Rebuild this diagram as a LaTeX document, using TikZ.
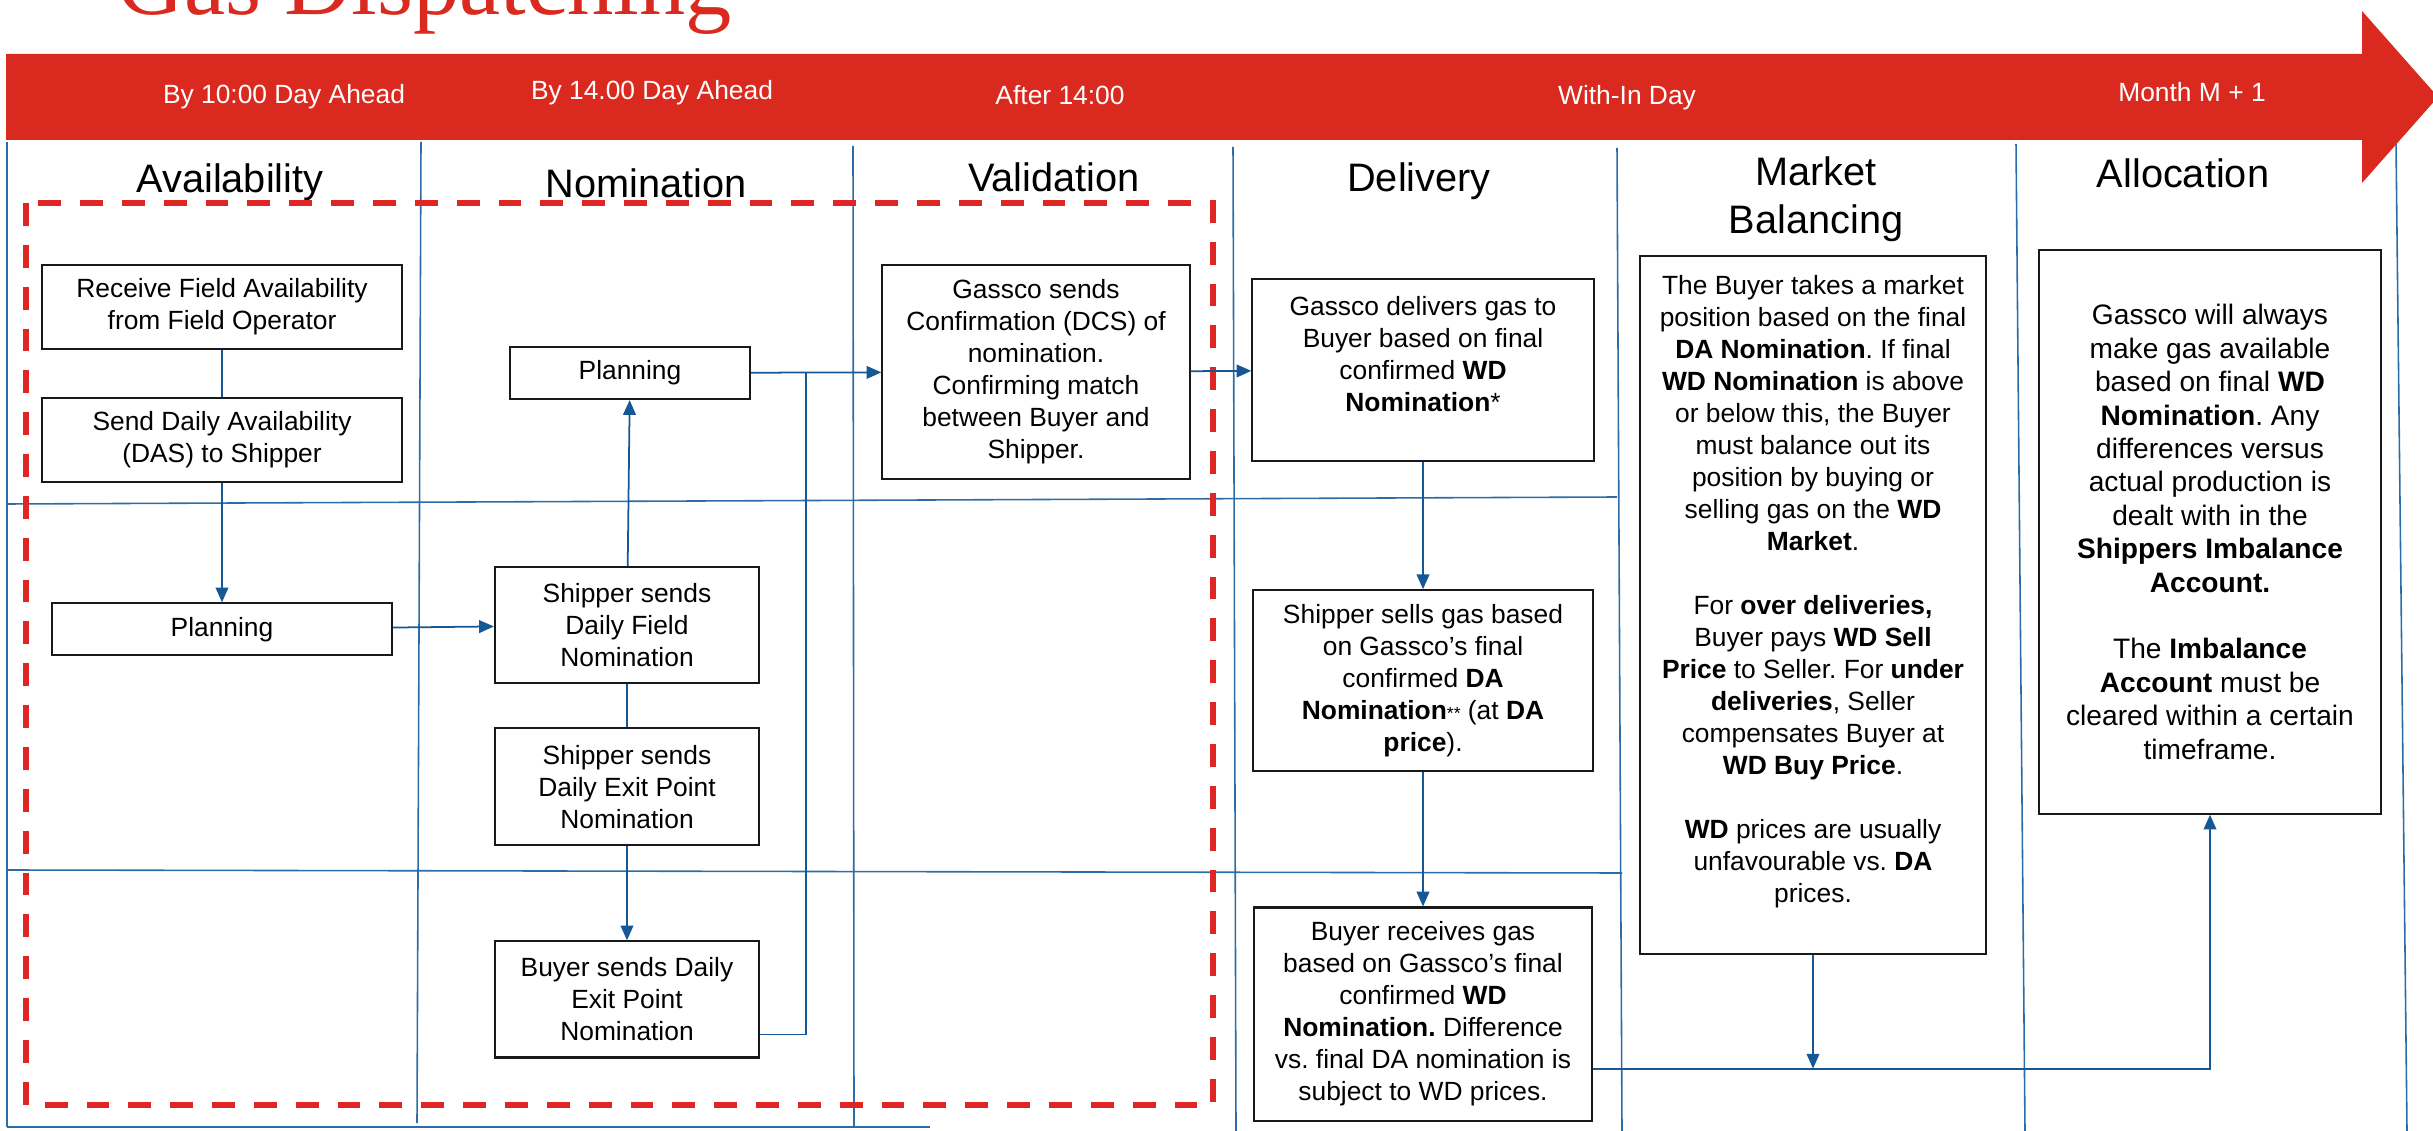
\documentclass[tikz,border=0pt]{standalone}
\usepackage{fontspec}
\setmainfont{Liberation Sans}
\newfontfamily\titlefont{Liberation Serif}
\usetikzlibrary{arrows.meta,positioning}
\frenchspacing

\definecolor{bandred}{RGB}{218,41,30}
\definecolor{dashred}{RGB}{224,38,36}
\definecolor{flowblue}{RGB}{22,88,150}
\definecolor{gridblue}{RGB}{45,108,168}
\newcommand{\bxfont}{\fontsize{7.5}{9.1}\selectfont}
\newcommand{\hdfont}{\fontsize{11.3}{13.7}\selectfont}

\begin{document}
\begin{tikzpicture}[x=0.01cm,y=-0.01cm,
    box/.style={draw=black!90,line width=0.6pt,fill=white,align=center,inner sep=2pt,font=\bxfont},
    hdr/.style={anchor=base,font=\hdfont,inner sep=0pt},
    band/.style={anchor=base,text=white,font=\bxfont,inner sep=0pt},
    flow/.style={draw=flowblue,line width=0.5pt},
    arr/.style={-{Triangle[length=4.2pt,width=3.6pt]}},
    lane/.style={draw=gridblue,line width=0.45pt}]
    \useasboundingbox (0,0) rectangle (2433,1131);
    \clip (0,0) rectangle (2433,1131);

    % time arrow
    \fill[bandred] (6,54) -- (2362,54) -- (2362,11) -- (2438,97) -- (2362,183) -- (2362,140) -- (6,140) -- cycle;
    \node[anchor=base west,text=bandred,font=\titlefont\fontsize{26.3}{30}\selectfont,inner sep=0pt] (title) at (117,15) {Gas Dispatching};
    \node[band] (t1) at (284,104) {By 10:00 Day Ahead};
    \node[band] (t2) at (652,100) {By 14.00 Day Ahead};
    \node[band] (t3) at (1060,105) {After 14:00};
    \node[band] (t4) at (1627,105) {With-In Day};
    \node[band] (t5) at (2192,102) {Month M + 1};

    % lanes
    \foreach \xa/\xb/\ya/\yb in {7/7/142/1127, 421/417/142/1123, 853/854/146/1127, 1233/1236/147/1131,
        1617/1622/148/1131, 2016/2025/144/1131, 2396/2407/144/1131}
        \draw[lane] (\xa,\ya) -- (\xb,\yb);
    \draw[lane] (7,504) -- (1617,497);
    \draw[lane] (7,870) -- (1622,873);
    \draw[lane] (7,1127) -- (930,1127);

    % column headers
    \node[hdr] (havail) at (230,193) {Availability};
    \node[hdr] (hnom) at (646,198) {Nomination};
    \node[hdr] (hval) at (1054,192) {Validation};
    \node[hdr] (hdel) at (1419,192) {Delivery};
    \node[font=\hdfont,align=center,inner sep=0pt] (hmkt) at (1816,199) {Market\\Balancing};
    \node[hdr] (halloc) at (2183,188) {Allocation};

    % day-ahead frame
    \draw[dashred,line width=1.7pt,dash pattern=on 6.5pt off 5.4pt] (26,203) rectangle (1213,1105);

    % availability
    \node[box,minimum width=3.59cm,minimum height=0.84cm] (recv) at (222,307) {Receive Field Availability\\from Field Operator};
    \node[box,minimum width=3.59cm,minimum height=0.84cm,below=0.47cm of recv] (das) {Send Daily Availability\\(DAS) to Shipper};
    \node[box,minimum width=3.40cm,minimum height=0.52cm,below=1.19cm of das] (plan) {Planning};

    % nomination
    \node[box,minimum width=2.40cm,minimum height=0.52cm] (nplan) at (630,373) {Planning};
    \node[box,minimum width=2.64cm,minimum height=1.16cm] (sfield) at (627,625) {Shipper sends\\Daily Field\\Nomination};
    \node[box,minimum width=2.63cm,minimum height=1.17cm,below=0.43cm of sfield] (sexit) {Shipper sends\\Daily Exit Point\\Nomination};
    \node[box,minimum width=2.63cm,minimum height=1.16cm,below=0.94cm of sexit] (bexit) {Buyer sends Daily\\Exit Point\\Nomination};

    % validation
    \node[box,minimum width=3.07cm,minimum height=2.14cm] (conf) at (1036,372) {Gassco sends\\Confirmation (DCS) of\\nomination.\\Confirming match\\between Buyer and\\Shipper.};

    % delivery
    \node[box,minimum width=3.41cm,minimum height=1.82cm] (deliv) at (1423,370) {Gassco delivers gas to\\Buyer based on final\\confirmed \textbf{WD}\\\textbf{Nomination}*\\~};
    \node[box,minimum width=3.40cm,minimum height=1.81cm,below=1.27cm of deliv] (sells) {Shipper sells gas based\\on Gassco’s final\\confirmed \textbf{DA}\\\textbf{Nomination}{\fontsize{5}{6}\selectfont**} (at \textbf{DA}\\\textbf{price}).};
    \node[box,minimum width=3.38cm,minimum height=2.13cm,below=1.34cm of sells] (recvgas) {Buyer receives gas\\based on Gassco’s final\\confirmed \textbf{WD}\\\textbf{Nomination.} Difference\\vs. final DA nomination is\\subject to WD prices.};

    % market balancing
    \node[box,minimum width=3.45cm,minimum height=6.98cm] (mkt) at (1813,605) {The Buyer takes a market\\position based on the final\\\textbf{DA Nomination}. If final\\\textbf{WD Nomination} is above\\or below this, the Buyer\\must balance out its\\position by buying or\\selling gas on the \textbf{WD}\\\textbf{Market}.\\~\\For \textbf{over deliveries,}\\Buyer pays \textbf{WD Sell}\\\textbf{Price} to Seller. For \textbf{under}\\\textbf{deliveries}, Seller\\compensates Buyer at\\\textbf{WD Buy Price}.\\~\\\textbf{WD} prices are usually\\unfavourable vs. \textbf{DA}\\prices.\\~};

    % allocation
    \node[box,minimum width=3.41cm,minimum height=5.63cm,font=\fontsize{8}{9.5}\selectfont] (alloc) at (2210,532) {Gassco will always\\make gas available\\based on final \textbf{WD}\\\textbf{Nomination}. Any\\differences versus\\actual production is\\dealt with in the\\\textbf{Shippers Imbalance}\\\textbf{Account.}\\~\\The \textbf{Imbalance}\\\textbf{Account} must be\\cleared within a certain\\timeframe.};

    % flows
    \draw[flow] (recv) -- (das);
    \draw[flow,arr] (das) -- (plan);
    \draw[flow,arr] (plan) -- (sfield);
    \draw[flow,arr] (sfield) -- (nplan);
    \draw[flow] (sfield) -- (sexit);
    \draw[flow,arr] (sexit) -- (bexit);
    \draw[flow,arr] (nplan) -- (conf);
    \coordinate (join) at (806,373);
    \draw[flow] ([yshift=-0.35cm]bexit.east) -| (join);
    \draw[flow,arr] (conf) -- (deliv);
    \draw[flow,arr] (deliv) -- (sells);
    \draw[flow,arr] (sells) -- (recvgas);
    \coordinate (gasout) at ([yshift=-0.545cm]recvgas.east);
    \draw[flow,arr] (gasout) -| (alloc);
    \draw[flow,arr] (mkt) -- (mkt.south |- gasout);
\end{tikzpicture}
\end{document}
